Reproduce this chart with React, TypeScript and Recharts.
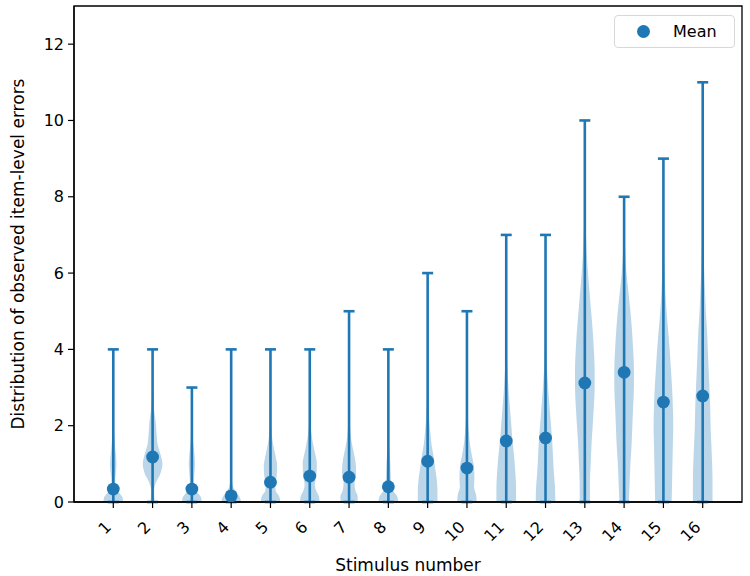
import {
  Area,
  ComposedChart,
  Label,
  ReferenceArea,
  ReferenceLine,
  Scatter,
  XAxis,
  YAxis,
} from 'recharts';

const stimuli = [1, 2, 3, 4, 5, 6, 7, 8, 9, 10, 11, 12, 13, 14, 15, 16];
const means = [0.34, 1.18, 0.34, 0.16, 0.52, 0.68, 0.65, 0.4, 1.07, 0.89, 1.6, 1.68, 3.12, 3.4, 2.62, 2.78];
const maxima = [4, 4, 3, 4, 4, 4, 5, 4, 6, 5, 7, 7, 10, 8, 9, 11];
const yTicks = [0, 2, 4, 6, 8, 10, 12];

// [errors, half width of the violin], one list per stimulus
const violinShapes: number[][][] = [
  [[0, 0.25], [0.1, 0.24], [0.2, 0.18], [0.3, 0.1], [0.4, 0.06], [0.6, 0.05], [0.8, 0.07], [1.0, 0.08], [1.2, 0.07], [1.4, 0.05], [1.7, 0.03], [2.0, 0.015], [2.5, 0.005], [3, 0.003], [4, 0.001]],
  [[0, 0.05], [0.3, 0.04], [0.5, 0.08], [0.75, 0.2], [1.0, 0.25], [1.25, 0.2], [1.5, 0.13], [1.8, 0.1], [2.1, 0.08], [2.4, 0.04], [2.8, 0.015], [3.2, 0.005], [4, 0.001]],
  [[0, 0.25], [0.1, 0.24], [0.2, 0.18], [0.3, 0.1], [0.45, 0.05], [0.7, 0.06], [1.0, 0.08], [1.3, 0.06], [1.6, 0.03], [2.0, 0.01], [2.5, 0.003], [3, 0.001]],
  [[0, 0.25], [0.1, 0.23], [0.2, 0.17], [0.3, 0.1], [0.4, 0.05], [0.55, 0.02], [0.8, 0.008], [1.2, 0.004], [2, 0.002], [4, 0.001]],
  [[0, 0.25], [0.15, 0.22], [0.3, 0.13], [0.45, 0.12], [0.7, 0.16], [0.95, 0.17], [1.2, 0.13], [1.5, 0.07], [1.8, 0.03], [2.2, 0.01], [2.8, 0.003], [4, 0.001]],
  [[0, 0.25], [0.15, 0.23], [0.3, 0.16], [0.45, 0.13], [0.7, 0.17], [1.0, 0.18], [1.3, 0.13], [1.6, 0.07], [1.9, 0.03], [2.3, 0.01], [3, 0.003], [4, 0.001]],
  [[0, 0.22], [0.15, 0.22], [0.3, 0.16], [0.5, 0.14], [0.75, 0.18], [1.0, 0.17], [1.3, 0.12], [1.6, 0.06], [2.0, 0.025], [2.5, 0.01], [3.2, 0.004], [4, 0.002], [5, 0.001]],
  [[0, 0.25], [0.1, 0.24], [0.2, 0.19], [0.3, 0.12], [0.45, 0.07], [0.7, 0.06], [1.0, 0.05], [1.3, 0.03], [1.7, 0.012], [2.2, 0.005], [3, 0.002], [4, 0.001]],
  [[0, 0.25], [0.3, 0.25], [0.6, 0.23], [0.9, 0.19], [1.2, 0.15], [1.5, 0.1], [1.8, 0.07], [2.1, 0.045], [2.5, 0.025], [3, 0.01], [3.5, 0.005], [4.5, 0.002], [6, 0.001]],
  [[0, 0.25], [0.2, 0.23], [0.4, 0.18], [0.6, 0.19], [0.9, 0.18], [1.2, 0.13], [1.5, 0.08], [1.8, 0.05], [2.2, 0.025], [2.7, 0.01], [3.5, 0.004], [5, 0.001]],
  [[0, 0.25], [0.4, 0.25], [0.8, 0.23], [1.2, 0.2], [1.6, 0.16], [2.0, 0.13], [2.4, 0.1], [2.8, 0.07], [3.2, 0.045], [3.6, 0.025], [4.2, 0.012], [5, 0.005], [6, 0.002], [7, 0.001]],
  [[0, 0.25], [0.4, 0.24], [0.8, 0.21], [1.2, 0.19], [1.6, 0.17], [2.0, 0.14], [2.4, 0.11], [2.8, 0.08], [3.2, 0.055], [3.6, 0.03], [4.2, 0.015], [5, 0.006], [6, 0.002], [7, 0.001]],
  [[0, 0.13], [0.5, 0.13], [1, 0.15], [1.5, 0.17], [2, 0.2], [2.5, 0.23], [3, 0.25], [3.5, 0.25], [4, 0.23], [4.5, 0.2], [5, 0.16], [5.5, 0.12], [6, 0.08], [6.5, 0.05], [7, 0.03], [7.5, 0.015], [8, 0.008], [9, 0.003], [10, 0.001]],
  [[0, 0.12], [0.5, 0.14], [1, 0.16], [1.5, 0.19], [2, 0.21], [2.5, 0.23], [3, 0.25], [3.5, 0.25], [4, 0.23], [4.5, 0.2], [5, 0.16], [5.5, 0.11], [6, 0.06], [6.5, 0.03], [7, 0.012], [7.5, 0.005], [8, 0.002]],
  [[0, 0.21], [0.5, 0.22], [1, 0.23], [1.5, 0.24], [2, 0.25], [2.5, 0.24], [3, 0.22], [3.5, 0.19], [4, 0.16], [4.5, 0.12], [5, 0.08], [5.5, 0.05], [6, 0.03], [6.5, 0.015], [7, 0.008], [8, 0.003], [9, 0.001]],
  [[0, 0.25], [0.5, 0.25], [1, 0.24], [1.5, 0.22], [2, 0.2], [2.5, 0.19], [3, 0.17], [3.5, 0.15], [4, 0.13], [4.5, 0.11], [5, 0.08], [5.5, 0.06], [6, 0.04], [6.5, 0.025], [7, 0.015], [8, 0.006], [9, 0.003], [10, 0.002], [11, 0.001]],
];

const BLUE = '#1f77b4';
const FONT = '"DejaVu Sans", sans-serif';
const CAP = 0.14;

const violinData = violinShapes.map((shape, i) =>
  shape.map(([y, w]) => ({ y, band: [stimuli[i] - w, stimuli[i] + w] })),
);
const meanData = means.map((m, i) => ({ x: stimuli[i], y: m }));

function StimulusTick(props: any) {
  const { x, y, payload } = props;
  const ax = x - 1;
  const ay = y + 18;
  return (
    <text
      x={ax}
      y={ay}
      transform={`rotate(-45 ${ax} ${ay})`}
      textAnchor="end"
      fontSize={16}
      fontFamily={FONT}
      fill="#000"
    >
      {payload.value}
    </text>
  );
}

export default function App() {
  return (
    <div style={{ position: 'absolute', left: 0, top: 0, width: 750, height: 576, background: '#fff' }}>
      <ComposedChart
        width={750}
        height={576}
        layout="vertical"
        margin={{ top: 6, right: 8, bottom: 30, left: 30 }}
      >
        <XAxis
          type="number"
          dataKey="x"
          domain={[0, 17]}
          allowDataOverflow
          ticks={stimuli}
          interval={0}
          tick={<StimulusTick />}
          tickSize={6}
          tickMargin={2}
          height={44}
          stroke="#000"
          axisLine={{ stroke: '#000', strokeWidth: 1.3 }}
          tickLine={{ stroke: '#000', strokeWidth: 1.2 }}
        >
          <Label
            value="Stimulus number"
            position="bottom"
            offset={13}
            style={{ fontSize: 17, fontFamily: FONT, fill: '#000' }}
          />
        </XAxis>
        <YAxis
          type="number"
          dataKey="y"
          domain={[0, 13]}
          reversed
          allowDataOverflow
          ticks={yTicks}
          interval={0}
          width={44}
          tickSize={6}
          tickMargin={4}
          stroke="#000"
          axisLine={{ stroke: '#000', strokeWidth: 1.3 }}
          tickLine={{ stroke: '#000', strokeWidth: 1.2 }}
          tick={{ fontSize: 16, fontFamily: FONT, fill: '#000' }}
        >
          <Label
            value="Distribution of observed item-level errors"
            angle={-90}
            position="center"
            dx={-34}
            style={{ fontSize: 17, fontFamily: FONT, fill: '#000', textAnchor: 'middle' }}
          />
        </YAxis>

        {violinData.map((d, i) => (
          <Area
            key={`violin-${i}`}
            data={d}
            dataKey="band"
            type="monotone"
            fill={BLUE}
            fillOpacity={0.3}
            stroke="none"
            dot={false}
            activeDot={false}
            isAnimationActive={false}
          />
        ))}

        {stimuli.map((s, i) => (
          <ReferenceLine
            key={`stem-${i}`}
            segment={[{ x: s, y: 0 }, { x: s, y: maxima[i] }]}
            stroke={BLUE}
            strokeWidth={2.6}
          />
        ))}
        {stimuli.map((s, i) => (
          <ReferenceLine
            key={`cap-top-${i}`}
            segment={[{ x: s - CAP, y: maxima[i] }, { x: s + CAP, y: maxima[i] }]}
            stroke={BLUE}
            strokeWidth={2.6}
          />
        ))}
        {stimuli.map((s, i) => (
          <ReferenceLine
            key={`cap-bottom-${i}`}
            segment={[{ x: s - CAP, y: 0 }, { x: s + CAP, y: 0 }]}
            stroke={BLUE}
            strokeWidth={2.6}
          />
        ))}

        <Scatter
          data={meanData}
          fill={BLUE}
          isAnimationActive={false}
          shape={(p: any) => <circle cx={p.cx} cy={p.cy} r={6.4} fill={BLUE} />}
        />

        <ReferenceArea x1={0} x2={17} y1={0} y2={13} fill="none" stroke="#000" strokeWidth={1.3} />
      </ComposedChart>

      <div
        style={{
          position: 'absolute',
          left: 614,
          top: 15,
          width: 121,
          height: 33,
          boxSizing: 'border-box',
          border: '1px solid #d8d8d8',
          borderRadius: 4,
          background: 'rgba(255,255,255,0.8)',
          display: 'flex',
          alignItems: 'center',
          fontFamily: FONT,
          fontSize: 16,
          color: '#000',
        }}
      >
        <span
          style={{
            display: 'inline-block',
            width: 13,
            height: 13,
            borderRadius: '50%',
            background: BLUE,
            marginLeft: 22,
            marginRight: 23,
          }}
        />
        <span>Mean</span>
      </div>
    </div>
  );
}
